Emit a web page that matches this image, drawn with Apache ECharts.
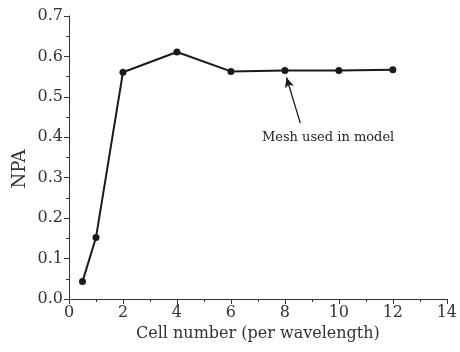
<!DOCTYPE html>
<html><head><meta charset="utf-8">
<script src="https://cdn.jsdelivr.net/npm/echarts@6/dist/echarts.min.js"></script>
<style>html,body{margin:0;padding:0;background:#fff}#c{width:460px;height:352px}</style>
</head><body><div id="c"></div>
<script>
const cells = [0.5, 1, 2, 4, 6, 8, 10, 12];
const npa = [0.043, 0.152, 0.561, 0.611, 0.563, 0.565, 0.565, 0.567];
const xTitle = 'Cell number (per wavelength)';
const yTitle = 'NPA';
const annotationText = 'Mesh used in model';
const arrowFrom = [8.57, 0.435];
const arrowTo = [8.06, 0.548];
const textAt = [9.6, 0.40];

const font = 'DejaVu Serif';
const ink = '#1a1a1a';
const chart = echarts.init(document.getElementById('c'), null, {renderer: 'canvas'});
const axisCommon = {
  axisLine: {show: true, onZero: false, lineStyle: {color: '#333', width: 1}},
  axisTick: {show: true, inside: false, length: 5, lineStyle: {color: '#333'}},
  minorTick: {show: true, splitNumber: 2, length: 3, lineStyle: {color: '#333'}},
  splitLine: {show: false},
  axisLabel: {color: '#333', fontFamily: font, fontSize: 16, margin: 6},
  nameTextStyle: {color: '#333', fontFamily: font, fontSize: 16}
};
chart.setOption({
  animation: false,
  backgroundColor: '#fff',
  grid: {left: 69, right: 10, top: 16, bottom: 53},
  xAxis: Object.assign({}, axisCommon, {
    type: 'value', min: 0, max: 14, interval: 2,
    name: xTitle, nameLocation: 'middle', nameGap: 24
  }),
  yAxis: Object.assign({}, axisCommon, {
    type: 'value', min: 0, max: 0.7, interval: 0.1,
    axisLabel: Object.assign({}, axisCommon.axisLabel, {formatter: v => v.toFixed(1)})
  }),
  series: [{
    type: 'line',
    data: cells.map((c, i) => [c, npa[i]]),
    symbol: 'circle', symbolSize: 7,
    lineStyle: {color: ink, width: 2},
    itemStyle: {color: ink},
    markLine: {
      silent: true,
      symbol: ['none', 'arrow'], symbolSize: [7, 10],
      lineStyle: {color: ink, width: 1.3, type: 'solid'},
      label: {show: false},
      data: [[{coord: arrowFrom}, {coord: arrowTo}]]
    }
  }]
});
const p = chart.convertToPixel({gridIndex: 0}, textAt);
chart.setOption({
  graphic: [{
    type: 'text', x: p[0], y: p[1],
    style: {text: annotationText, fill: '#222', font: '13px "' + font + '"', align: 'center', verticalAlign: 'middle'}
  }, {
    type: 'text', x: 20, y: 169, rotation: Math.PI / 2,
    style: {text: yTitle, fill: '#333', font: '18px "' + font + '"', align: 'center', verticalAlign: 'middle'}
  }]
});
</script></body></html>
